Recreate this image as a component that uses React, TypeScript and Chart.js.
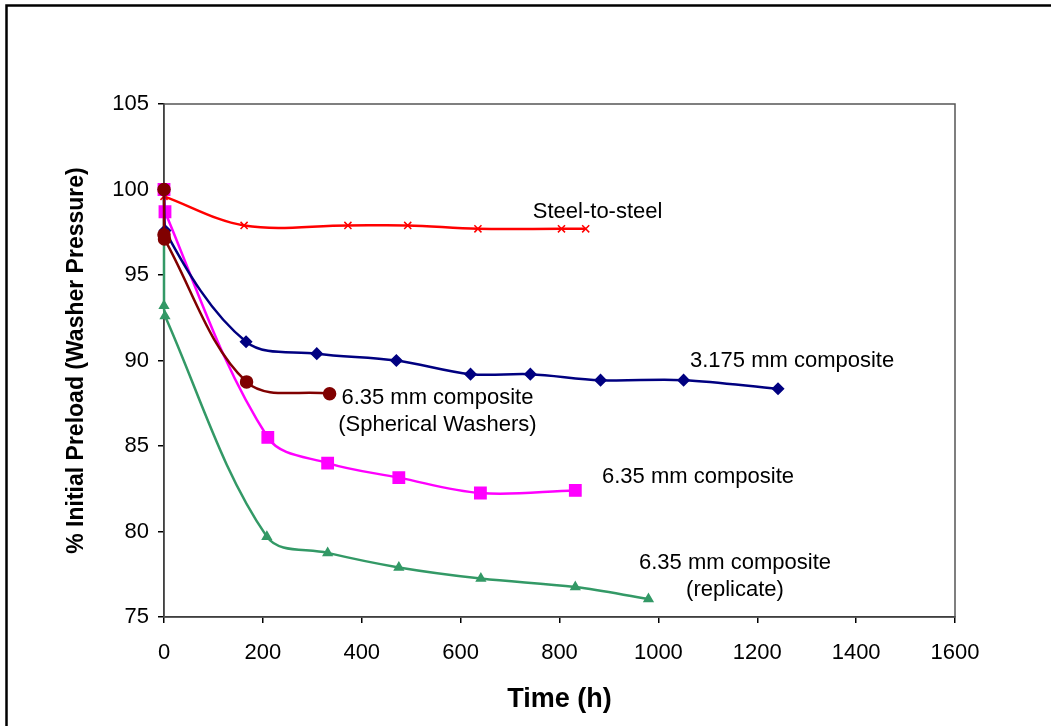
import React, { useEffect, useRef } from "react";
import { Chart, registerables } from "chart.js";

Chart.register(...registerables);

// ---- data ----
const xTickValues = [0, 200, 400, 600, 800, 1000, 1200, 1400, 1600];
const yTickValues = [75, 80, 85, 90, 95, 100, 105];

const steelTime = [0, 162, 372, 493, 635, 804, 853];
const steelPct = [99.6, 97.9, 97.9, 97.9, 97.7, 97.7, 97.7];

const c3175Time = [0, 2, 166, 309, 470, 620, 741, 883, 1051, 1242];
const c3175Pct = [100, 97.6, 91.1, 90.4, 90.0, 89.2, 89.2, 88.85, 88.85, 88.35];

const sphTime = [0, 0, 1, 167, 335];
const sphPct = [100, 97.35, 97.1, 88.75, 88.05];

const c635Time = [0, 2, 210, 331, 475, 640, 832];
const c635Pct = [100, 98.7, 85.5, 84.0, 83.15, 82.25, 82.4];

const repTime = [0, 0, 2, 208, 331, 475, 641, 832, 980];
const repPct = [100, 93.2, 92.6, 79.7, 78.75, 77.9, 77.25, 76.75, 76.05];

const seriesNames = [
  "6.35 mm composite (Spherical Washers)",
  "3.175 mm composite",
  "6.35 mm composite",
  "Steel-to-steel",
  "6.35 mm composite (replicate)",
];

// annotation texts, anchored in data coordinates
const annotations = [
  { lines: ["Steel-to-steel"], x: 746, y: 98.68, align: "left" },
  { lines: ["3.175 mm composite"], x: 1064, y: 89.97, align: "left" },
  { lines: ["6.35 mm composite", "(Spherical Washers)"], x: 553, y: 87.8, align: "center" },
  { lines: ["6.35 mm composite"], x: 886, y: 83.2, align: "left" },
  { lines: ["6.35 mm composite", "(replicate)"], x: 1155, y: 78.16, align: "center" },
];

const FONT = "'Liberation Sans', Arial, Helvetica, sans-serif";

const pts = (xs: number[], ys: number[]) => xs.map((x, i) => ({ x, y: ys[i] }));

const framePlugin = {
  id: "frames",
  beforeDraw(chart: any) {
    const ctx = chart.ctx;
    ctx.save();
    ctx.fillStyle = "#ffffff";
    ctx.fillRect(0, 0, chart.width, chart.height);
    ctx.strokeStyle = "#000000";
    ctx.lineWidth = 2.5;
    ctx.beginPath();
    ctx.moveTo(6.5, chart.height + 2);
    ctx.lineTo(6.5, 5.5);
    ctx.lineTo(chart.width + 2, 5.5);
    ctx.stroke();
    ctx.restore();
  },
  beforeDatasetsDraw(chart: any) {
    const { ctx, chartArea } = chart;
    ctx.save();
    ctx.strokeStyle = "#555555";
    ctx.lineWidth = 1.5;
    ctx.strokeRect(chartArea.left, chartArea.top, chartArea.right - chartArea.left, chartArea.bottom - chartArea.top);
    ctx.restore();
  },
  afterDatasetsDraw(chart: any) {
    const { ctx } = chart;
    const xs = chart.scales.x;
    const ys = chart.scales.y;
    ctx.save();
    ctx.fillStyle = "#000000";
    ctx.font = `22px ${FONT}`;
    ctx.textBaseline = "middle";
    annotations.forEach((a) => {
      const px = xs.getPixelForValue(a.x);
      const py = ys.getPixelForValue(a.y);
      ctx.textAlign = a.align as CanvasTextAlign;
      a.lines.forEach((t, i) => ctx.fillText(t, px, py + i * 26.5));
    });
    ctx.restore();
  },
};

export default function App() {
  const ref = useRef<HTMLCanvasElement | null>(null);
  useEffect(() => {
    if (!ref.current) return;
    const common = { borderWidth: 2.5, tension: 0.35, clip: false as any, pointBorderWidth: 1.5, fill: false };
    const chart = new Chart(ref.current, {
      type: "line",
      data: {
        datasets: [
          {
            ...common,
            label: seriesNames[0],
            data: pts(sphTime, sphPct),
            borderColor: "#800000",
            backgroundColor: "#800000",
            pointStyle: "circle",
            pointRadius: 6,
          },
          {
            ...common,
            label: seriesNames[1],
            data: pts(c3175Time, c3175Pct),
            borderColor: "#000080",
            backgroundColor: "#000080",
            pointStyle: "rectRot",
            pointRadius: 5.5,
          },
          {
            ...common,
            label: seriesNames[2],
            data: pts(c635Time, c635Pct),
            borderColor: "#FF00FF",
            backgroundColor: "#FF00FF",
            pointStyle: "rect",
            pointRadius: 8,
          },
          {
            ...common,
            label: seriesNames[3],
            data: pts(steelTime, steelPct),
            borderColor: "#FF0000",
            backgroundColor: "#FF0000",
            pointStyle: "crossRot",
            pointRadius: 5,
          },
          {
            ...common,
            label: seriesNames[4],
            data: pts(repTime, repPct),
            borderColor: "#339966",
            backgroundColor: "#339966",
            pointStyle: "triangle",
            pointRadius: 5,
          },
        ],
      },
      options: {
        animation: false,
        responsive: false,
        maintainAspectRatio: false,
        layout: { padding: { top: 104, right: 96, left: 0, bottom: 0 } },
        plugins: { legend: { display: false }, tooltip: { enabled: false }, title: { display: false } },
        scales: {
          x: {
            type: "linear",
            min: 0,
            max: 1600,
            afterFit: (s: any) => {
              s.height = 109;
            },
            afterBuildTicks: (s: any) => {
              s.ticks = xTickValues.map((v) => ({ value: v }));
            },
            ticks: {
              font: { family: FONT, size: 22 },
              color: "#000",
              padding: 17,
              maxRotation: 0,
              autoSkip: false,
              callback: (v: any) => String(v),
            },
            grid: { display: true, drawOnChartArea: false, drawTicks: true, tickLength: 6, color: "#000", lineWidth: 1.5 },
            border: { display: true, color: "#000", width: 1.5 },
            title: {
              display: true,
              text: "Time (h)",
              font: { family: FONT, size: 27, weight: "bold" },
              color: "#000",
              padding: 10,
            },
          },
          y: {
            type: "linear",
            min: 75,
            max: 105,
            afterFit: (s: any) => {
              s.width = 164;
            },
            afterBuildTicks: (s: any) => {
              s.ticks = yTickValues.map((v) => ({ value: v }));
            },
            ticks: { font: { family: FONT, size: 22 }, color: "#000", padding: 9, autoSkip: false, callback: (v: any) => String(v) },
            grid: { display: true, drawOnChartArea: false, drawTicks: true, tickLength: 6, color: "#000", lineWidth: 1.5 },
            border: { display: true, color: "#000", width: 1.5 },
            title: {
              display: true,
              text: "% Initial Preload (Washer Pressure)",
              font: { family: FONT, size: 23, weight: "bold" },
              color: "#000",
              padding: 63,
            },
          },
        },
      },
      plugins: [framePlugin],
    });
    return () => chart.destroy();
  }, []);

  return (
    <div style={{ position: "fixed", left: 0, top: 0, width: 1051, height: 726, background: "#fff" }}>
      <canvas ref={ref} width={1051} height={726} style={{ display: "block" }} />
    </div>
  );
}
